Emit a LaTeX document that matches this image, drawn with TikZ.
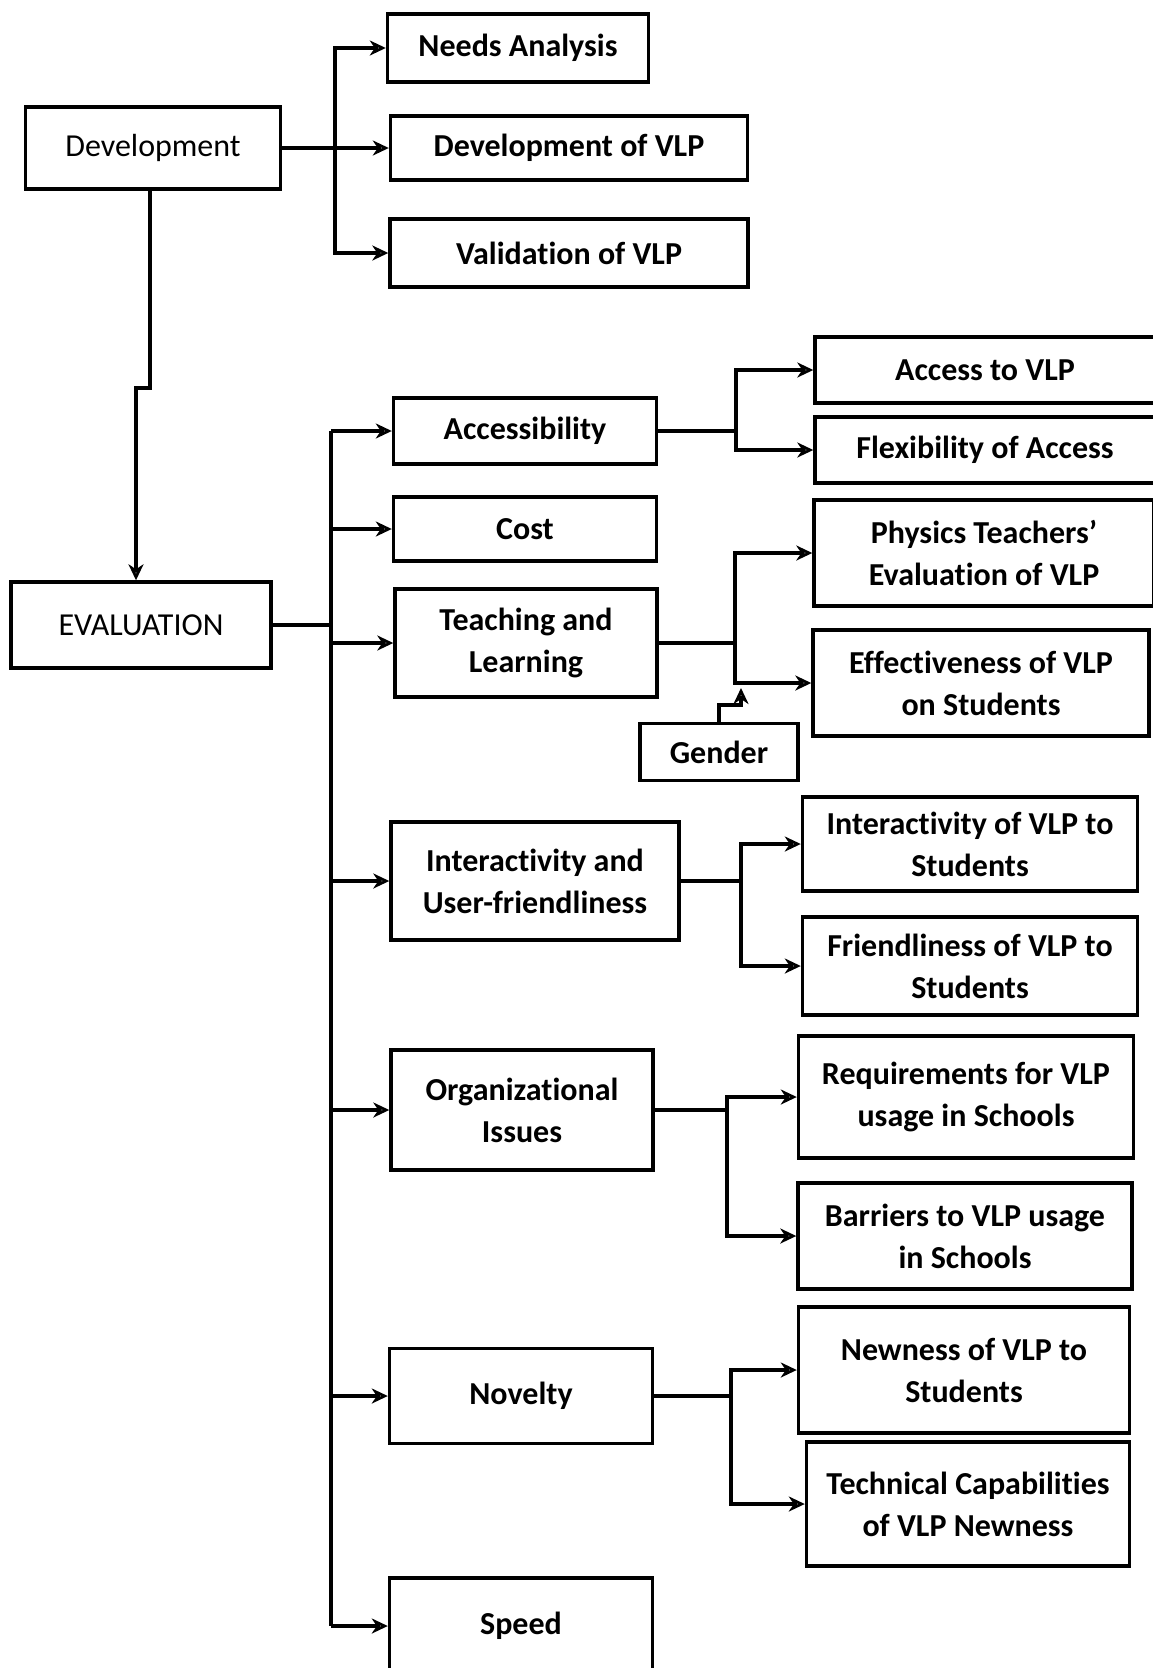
\documentclass[tikz,border=0pt]{standalone}
\usepackage{fontspec}
\setmainfont[Ligatures=NoCommon]{Carlito}
\usetikzlibrary{arrows.meta, positioning}

\begin{document}
\begin{tikzpicture}[x=1pt, y=-1pt, line width=3.4pt, line join=miter,
    >={Stealth[open, length=16pt, width=15pt, inset=5pt]},
    box/.style={draw, rectangle, align=center, inner sep=2pt,
                font=\fontsize{32}{42}\selectfont\bfseries},
    plainbox/.style={box, font=\fontsize{32}{42}\selectfont}]

    \useasboundingbox (0,0) rectangle (1152,1668);

    % development part
    \node [plainbox, minimum width=255pt, minimum height=82pt] (dev) at (153 , 148) {Development};
    \node [box, minimum width=261pt, minimum height=68pt] (needs) at (518 , 48) {Needs Analysis};
    \node [box, minimum width=357pt, minimum height=64pt] (devvlp) at (569 , 148) {Development of VLP};
    \node [box, minimum width=358pt, minimum height=68pt] (valid) at (569 , 253) {Validation of VLP};

    % evaluation part
    \node [plainbox, minimum width=260pt, minimum height=86pt] (eval) at (141 , 625) {EVALUATION};
    \node [box, minimum width=263pt, minimum height=66pt] (access) at (525 , 431) {Accessibility};
    \node [box, minimum width=263pt, minimum height=64pt] (cost) at (525 , 529) {Cost};
    \node [box, minimum width=262pt, minimum height=108pt] (teach) at (526 , 643) {Teaching and\\Learning};
    \node [box, minimum width=288pt, minimum height=118pt] (inter) at (535 , 881) {Interactivity and\\User-friendliness};
    \node [box, minimum width=262pt, minimum height=120pt] (org) at (522 , 1110) {Organizational\\Issues};
    \node [box, minimum width=263pt, minimum height=95pt] (novelty) at (521 , 1396) {Novelty};
    \node [box, minimum width=263pt, minimum height=96pt] (speed) at (521 , 1626) {Speed};

    % third column
    \node [box, minimum width=340pt, minimum height=66pt] (accvlp) at (985 , 370) {Access to VLP};
    \node [box, minimum width=340pt, minimum height=66pt] (flex) at (985 , 450) {Flexibility of Access};
    \node [box, minimum width=340pt, minimum height=106pt] (phys) at (984 , 553) {Physics Teachers’\\Evaluation of VLP};
    \node [box, minimum width=336pt, minimum height=106pt] (eff) at (981 , 683) {Effectiveness of VLP\\on Students};
    \node [box, minimum width=158pt, minimum height=57pt] (gender) at (719 , 752) {Gender};
    \node [box, minimum width=335pt, minimum height=94pt] (intvlp) at (970 , 844) {Interactivity of VLP to\\Students};
    \node [box, minimum width=335pt, minimum height=98pt] (friend) at (970 , 966) {Friendliness of VLP to\\Students};
    \node [box, minimum width=335pt, minimum height=122pt] (req) at (966 , 1097) {Requirements for VLP\\usage in Schools};
    \node [box, minimum width=334pt, minimum height=106pt] (barr) at (965 , 1236) {Barriers to VLP usage\\in Schools};
    \node [box, minimum width=331pt, minimum height=126pt] (newness) at (964 , 1370) {Newness of VLP to\\Students};
    \node [box, minimum width=323pt, minimum height=124pt] (tech) at (968 , 1504) {Technical Capabilities\\of VLP Newness};

    % junctions
    \coordinate (jdev) at (335 , 148);
    \coordinate (k1) at (150 , 388);
    \coordinate (k2) at (136 , 388);
    \coordinate (trunk) at (331 , 625);
    \coordinate (jacc) at (736 , 431);
    \coordinate (jteach) at (735 , 643);
    \coordinate (gbend) at (741 , 705);
    \coordinate (gtip) at (741 , 688);
    \coordinate (jinter) at (741 , 881);
    \coordinate (jorg) at (727 , 1110);
    \coordinate (jnov) at (731 , 1396);

    \draw (dev.east) -- (jdev);
    \foreach \n in {needs, devvlp, valid}
        \draw [->] (jdev) |- (\n.west);
    \draw [->] (dev.south -| k1) -- (k1) -- (k2) -- (k2 |- eval.north);

    \draw (eval.east) -- (trunk);
    \draw (trunk |- access.west) -- (trunk |- speed.west);
    \foreach \n in {access, cost, teach, inter, org, novelty, speed}
        \draw [->] (trunk |- \n.west) -- (\n.west);

    \draw (access.east) -- (jacc);
    \draw [->] (jacc) |- (accvlp.west);
    \draw [->] (jacc) |- (flex.west);

    \draw (teach.east) -- (jteach);
    \draw [->] (jteach) |- (phys.west);
    \draw [->] (jteach) |- (eff.west);
    \draw [->] (gender.north) |- (gbend) -- (gtip);

    \draw (inter.east) -- (jinter);
    \draw [->] (jinter) |- (intvlp.west);
    \draw [->] (jinter) |- (friend.west);

    \draw (org.east) -- (jorg);
    \draw [->] (jorg) |- (req.west);
    \draw [->] (jorg) |- (barr.west);

    \draw (novelty.east) -- (jnov);
    \draw [->] (jnov) |- (newness.west);
    \draw [->] (jnov) |- (tech.west);
\end{tikzpicture}
\end{document}
